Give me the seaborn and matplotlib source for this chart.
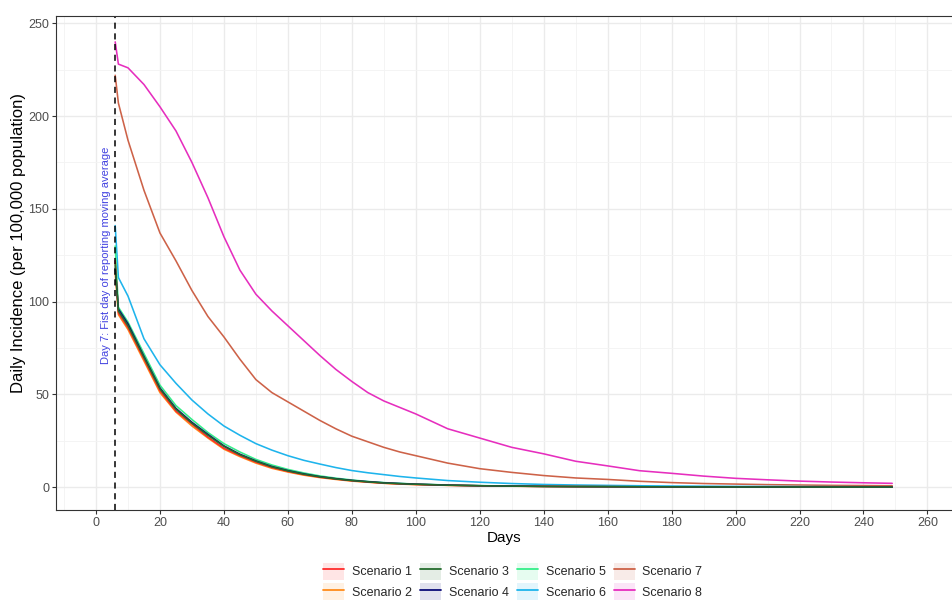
import numpy as np
import pandas as pd
import seaborn as sns
import matplotlib.pyplot as plt
from matplotlib.lines import Line2D
from matplotlib.patches import Patch
from matplotlib.ticker import MultipleLocator

days = [6, 7, 10, 15, 20, 25, 30, 35, 40, 45, 50, 55, 60, 65, 70, 75, 80, 85, 90, 95, 100,
        110, 120, 130, 140, 150, 160, 170, 180, 190, 200, 210, 220, 230, 240, 249]

scenario_1 = [122, 94, 86, 69, 52, 41, 34, 27, 21, 17, 13.5, 10.6, 8.5, 6.8, 5.4, 4.4, 3.5, 2.8, 2.2, 1.8, 1.5,
              1.05, 0.78, 0.58, 0.44, 0.34, 0.29, 0.24, 0.2, 0.17, 0.15, 0.13, 0.12, 0.11, 0.1, 0.1]
scenario_2 = [115, 93, 85, 68, 51, 40.5, 33, 26.5, 20.5, 16.5, 13, 10.2, 8.2, 6.5, 5.2, 4.2, 3.3, 2.7, 2.1, 1.7, 1.4,
              1.0, 0.75, 0.55, 0.42, 0.33, 0.28, 0.23, 0.19, 0.17, 0.14, 0.12, 0.11, 0.1, 0.1, 0.1]
scenario_3 = [120, 95, 87, 70, 53, 42, 34.5, 28, 22, 17.5, 14, 11, 8.8, 7, 5.6, 4.5, 3.6, 2.9, 2.3, 1.9, 1.6,
              1.1, 0.8, 0.6, 0.45, 0.35, 0.3, 0.25, 0.2, 0.18, 0.15, 0.13, 0.12, 0.11, 0.1, 0.1]
scenario_4 = [118, 96, 88, 70.5, 53.5, 42.5, 35, 28.5, 22.3, 17.8, 14.2, 11.2, 9, 7.2, 5.7, 4.6, 3.7, 3, 2.4, 2, 1.65,
              1.15, 0.82, 0.62, 0.46, 0.36, 0.3, 0.25, 0.21, 0.18, 0.15, 0.13, 0.12, 0.11, 0.1, 0.1]
scenario_5 = [130, 97, 89, 72, 55, 44, 36.5, 29.5, 23.5, 19, 15, 12, 9.6, 7.7, 6.1, 4.9, 3.9, 3.1, 2.5, 2.1, 1.7,
              1.2, 0.85, 0.64, 0.48, 0.38, 0.32, 0.26, 0.22, 0.19, 0.16, 0.14, 0.13, 0.12, 0.11, 0.1]
scenario_6 = [141, 113, 103, 80, 66, 56, 47, 39.5, 33, 28, 23.5, 20, 17, 14.5, 12.5, 10.6, 9, 7.8, 6.8, 5.8, 5,
              3.6, 2.7, 2, 1.5, 1.2, 1, 0.8, 0.65, 0.55, 0.45, 0.4, 0.35, 0.3, 0.25, 0.2]
scenario_7 = [222, 207, 187, 160, 137, 122, 106, 92, 81, 69, 58, 51, 46, 41, 36, 31.5, 27.5, 24.5, 21.5, 19, 17,
              13, 10, 8, 6.3, 5, 4.2, 3.2, 2.5, 2, 1.7, 1.4, 1.2, 1, 0.9, 0.8]
scenario_8 = [240, 228, 226, 217, 205, 192, 175, 156, 135, 117, 104, 95, 87, 79, 71, 63.5, 57, 51, 46.5, 43, 39.5,
              31.5, 26.5, 21.5, 18, 14, 11.5, 8.9, 7.5, 6, 4.8, 4, 3.3, 2.8, 2.4, 2.1]

names = ["Scenario 1", "Scenario 2", "Scenario 3", "Scenario 4",
         "Scenario 5", "Scenario 6", "Scenario 7", "Scenario 8"]
series = [scenario_1, scenario_2, scenario_3, scenario_4,
          scenario_5, scenario_6, scenario_7, scenario_8]
colors = ["#FF2B2B", "#FF8C1A", "#236B2B", "#0B0B78",
          "#33EE88", "#1EB4EC", "#CD6248", "#E62EBE"]

df = pd.concat([pd.DataFrame({"Days": days, "Incidence": s, "Scenario": n})
                for n, s in zip(names, series)], ignore_index=True)

sns.set_theme(style="white")
plt.rcParams['font.family'] = ['Liberation Sans', 'DejaVu Sans']

fig = plt.figure(figsize=(9.53, 6.01), dpi=100)
ax = fig.add_axes([0.0588, 0.151, 0.9412, 0.822])

# grid like theme_bw
ax.xaxis.set_major_locator(MultipleLocator(20))
ax.xaxis.set_minor_locator(MultipleLocator(10))
ax.yaxis.set_major_locator(MultipleLocator(50))
ax.yaxis.set_minor_locator(MultipleLocator(25))
ax.grid(which="major", color="#EBEBEB", linewidth=1.0)
ax.grid(which="minor", color="#F3F3F3", linewidth=0.6)
ax.set_axisbelow(True)

# order so the dark lines sit on top of the others
order = ["Scenario 8", "Scenario 7", "Scenario 6", "Scenario 5",
         "Scenario 2", "Scenario 1", "Scenario 4", "Scenario 3"]
pal = dict(zip(names, colors))
sns.lineplot(data=df, x="Days", y="Incidence", hue="Scenario", hue_order=order,
             palette=pal, linewidth=1.15, legend=False, ax=ax)

ax.axvline(6, color="black", linestyle=(0, (4, 3)), linewidth=1.1)
ax.text(3.0, 125, "Day 7: Fist day of reporting moving average", rotation=90,
        color="#4242E0", fontsize=8, ha="center", va="center")

ax.set_xlim(-12.5, 268)
ax.set_ylim(-12.4, 253.8)
ax.set_xlabel("Days", fontsize=11, color="black", labelpad=1)
ax.set_ylabel("Daily Incidence (per 100,000 population)", fontsize=12, color="black")
ax.yaxis.set_label_coords(-0.033, 0.54)
ax.tick_params(axis="both", which="major", length=3, width=0.8, color="#333333", pad=2,
               labelsize=9, labelcolor="#4D4D4D", direction="out", bottom=True, left=True)
ax.tick_params(axis="both", which="minor", length=0)
for sp in ax.spines.values():
    sp.set_color("#333333")
    sp.set_linewidth(0.8)

handles = [(Patch(facecolor=c, alpha=0.12, edgecolor="none"), Line2D([], [], color=c, linewidth=1.3))
           for c in colors]
fig.legend(handles, names, loc="center", bbox_to_anchor=(0.538, 0.0324), ncol=4, frameon=False,
           fontsize=9, handlelength=1.7, handleheight=1.65, columnspacing=0.65, handletextpad=0.6,
           labelspacing=0.3, borderpad=0.2)

fig.savefig("out.png", dpi=100)
